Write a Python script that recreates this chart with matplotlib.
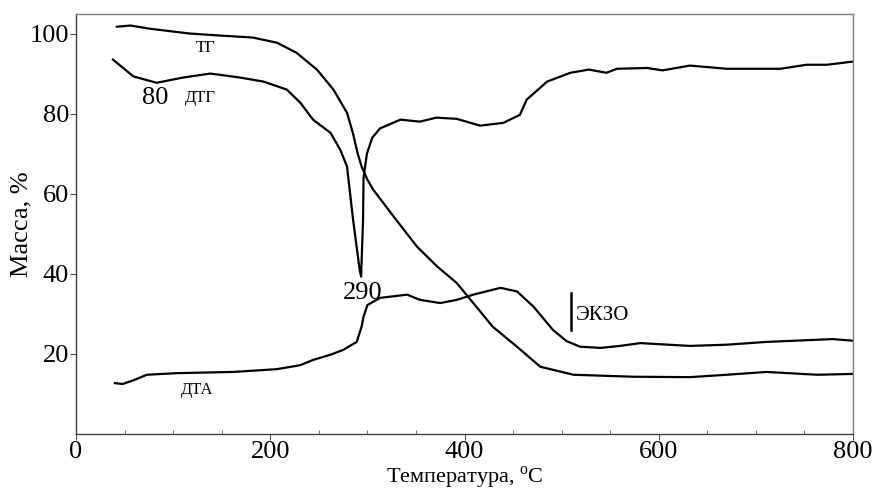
import matplotlib
matplotlib.use("Agg")
import matplotlib.pyplot as plt
from matplotlib.ticker import MultipleLocator

plt.rcParams['font.family'] = ['Liberation Serif', 'DejaVu Serif']
plt.rcParams['mathtext.fontset'] = 'custom'
plt.rcParams['mathtext.rm'] = 'Liberation Serif'

# ТГ — mass loss curve
tg_t = [42, 56, 76, 117, 148, 182, 207, 227, 248, 265, 279, 285, 290, 294, 300,
        306, 327, 351, 372, 392, 409, 429, 454, 478, 512, 574, 632, 670, 711,
        763, 800]
tg_m = [101.7, 102.0, 101.2, 100.0, 99.5, 99.0, 97.7, 95.2, 91.0, 86.0, 80.2,
        75.2, 70.0, 66.8, 63.5, 61.0, 54.3, 46.8, 41.8, 37.7, 32.7, 26.8, 21.8,
        16.8, 14.8, 14.3, 14.2, 14.8, 15.5, 14.8, 15.0]

# ДТГ — derivative curve
dtg_t = [38, 59, 83, 110, 138, 148, 169, 193, 217, 231, 244, 262, 272, 279, 285,
         292, 293.5, 295.5, 296, 299.5, 305, 313, 334, 354, 371, 392, 416, 440,
         457, 464, 485, 509, 528, 546, 557, 588, 604, 632, 670, 725, 752, 773, 800]
dtg_v = [93.5, 89.3, 87.7, 89.0, 90.0, 89.7, 89.0, 88.0, 86.0, 82.7, 78.5, 75.2,
         71.0, 66.8, 54.0, 41.0, 39.3, 53.5, 64.0, 70.0, 74.0, 76.3, 78.5, 78.0,
         79.0, 78.7, 77.0, 77.7, 79.7, 83.5, 88.0, 90.2, 91.0, 90.2, 91.2, 91.4,
         90.8, 92.0, 91.2, 91.2, 92.2, 92.2, 93.0]

# ДТА — differential thermal analysis curve
dta_t = [40, 48, 60, 73, 104, 162, 207, 231, 244, 262, 275, 289, 294, 296, 300,
         313, 341, 354, 375, 392, 409, 437, 454, 471, 491, 505, 519, 540, 560,
         581, 632, 670, 711, 779, 800]
dta_v = [12.7, 12.5, 13.5, 14.8, 15.2, 15.5, 16.2, 17.2, 18.5, 19.8, 21.0, 23.0,
         26.8, 29.3, 32.2, 34.0, 34.8, 33.5, 32.7, 33.5, 34.8, 36.5, 35.6, 31.8,
         26.0, 23.2, 21.8, 21.5, 22.0, 22.7, 22.0, 22.3, 23.0, 23.7, 23.3]

x_ticks = [0, 200, 400, 600, 800]
y_ticks = [20, 40, 60, 80, 100]

fig = plt.figure(figsize=(8.75, 4.95), dpi=100)
ax = fig.add_axes([0.0869, 0.1232, 0.8880, 0.8495])

for xs, ys in ((tg_t, tg_m), (dtg_t, dtg_v), (dta_t, dta_v)):
    ax.plot(xs, ys, color='black', lw=1.6, solid_joinstyle='round')

ax.set_xlim(0, 800)
ax.set_ylim(0, 105)
ax.set_xticks(x_ticks)
ax.set_yticks(y_ticks)
ax.xaxis.set_minor_locator(MultipleLocator(50))
ax.tick_params(axis='both', which='major', labelsize=19, length=4,
               direction='out', color='#555555', pad=1)
ax.tick_params(axis='x', which='minor', length=3, direction='in',
               color='#555555')
for s in ax.spines.values():
    s.set_color('#808080')
    s.set_linewidth(1.0)
ax.spines['bottom'].set_color('#404040')
ax.spines['left'].set_color('#404040')

ax.set_xlabel('Температура, $^{\\mathrm{o}}$C', fontsize=16, labelpad=1)
ax.set_ylabel('Масса, %', fontsize=19, labelpad=-2)

# curve labels and peak temperatures
ax.text(133, 96.5, 'ТГ', fontsize=12, ha='center', va='center')
ax.text(81, 84, '80', fontsize=19, ha='center', va='center')
ax.text(128, 84, 'ДТГ', fontsize=12, ha='center', va='center')
ax.text(295.5, 35.3, '290', fontsize=19, ha='center', va='center')
ax.text(124.5, 11, 'ДТА', fontsize=12, ha='center', va='center')
ax.plot([509.6, 509.6], [26, 35.2], color='black', lw=1.8)
ax.text(515, 29.7, 'ЭКЗО', fontsize=15, ha='left', va='center')

fig.savefig('out.png', dpi=100)
